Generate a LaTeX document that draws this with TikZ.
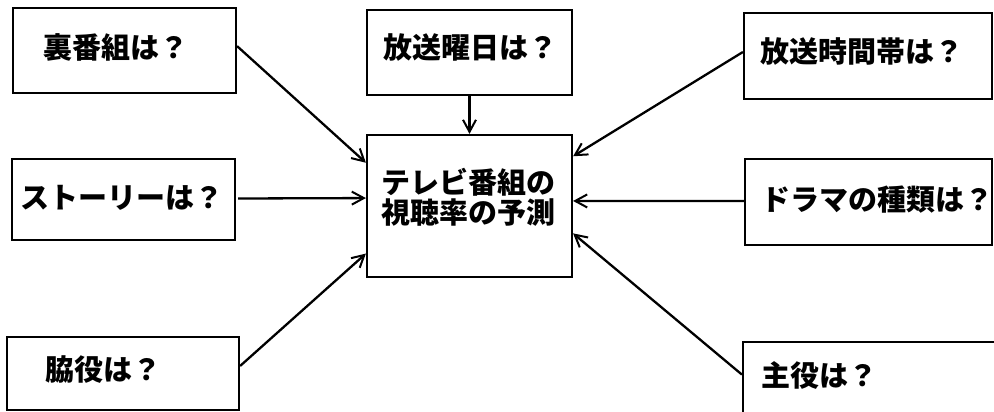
\documentclass[tikz,border=0pt]{standalone}
\usepackage{fontspec}
\setmainfont{Noto Sans CJK JP}
\usetikzlibrary{arrows.meta,calc,fit}
\tikzset{
  box/.style={draw=black, line width=2.2pt, inner sep=0pt, fill=none},
  lbl/.style={anchor=west, inner sep=0pt, font=\fontsize{29}{33}\selectfont\bfseries},
  conn/.style={line width=2.3pt, -{Straight Barb[length=12pt,width=13pt,line width=2pt]}}
}
\begin{document}
\begin{tikzpicture}[x=1pt,y=-1pt]
\useasboundingbox (0,0) rectangle (994,412);
\fill[white] (0,0) rectangle (994,412);
% boxes
\node[box, fit={(13,8) (236,93)}] (ura) {};
\node[box, fit={(367,10) (572,95)}] (youbi) {};
\node[box, fit={(744,13) (992,99)}] (jikan) {};
\node[box, fit={(12,159) (235,240)}] (story) {};
\node[box, fit={(745,159) (992,245)}] (drama) {};
\node[box, fit={(7,337) (239,410)}] (waki) {};
\node[box, fit={(743,342) (1000,420)}] (shuyaku) {};
\node[box, fit={(367,135) (572,277)}] (center) {};
% labels
\node[lbl] (tura) at (43,47) {裏番組は？};
\node[lbl] (tyoubi) at (383,48) {放送曜日は？};
\node[lbl] (tjikan) at (760,52) {放送時間帯は？};
\node[lbl] (tstory) at (20,198) {ストーリーは？};
\node[lbl] (tdrama) at (761,200) {ドラマの種類は？};
\node[lbl] (twaki) at (45,370) {脇役は？};
\node[lbl] (tshuyaku) at (761,375) {主役は？};
\node[lbl, align=left] (tcenter) at (381,197) {テレビ番組の\\[-3pt]視聴率の予測};
% connectors
\draw[conn] ($(ura.north east)!0.45!(ura.south east)$) -- ($(center.north west)!0.2!(center.south west)$);
\draw[conn] (youbi.south) -- (center.north);
\draw[conn] ($(jikan.west)+(0,-4)$) -- ($(center.north east)!0.155!(center.south east)$);
\draw[conn] ($(story.east)+(2,-1)$) -- ($(center.north west)!0.445!(center.south west)$);
\draw[conn] ($(drama.west)+(0,-1)$) -- ($(center.north east)!0.465!(center.south east)$);
\draw[conn] ($(waki.north east)!0.4!(waki.south east)$) -- ($(center.north west)!0.83!(center.south west)$);
\draw[conn] ($(shuyaku.north west)!0.42!(shuyaku.south west)$) -- ($(center.north east)!0.69!(center.south east)$);
\end{tikzpicture}
\end{document}
